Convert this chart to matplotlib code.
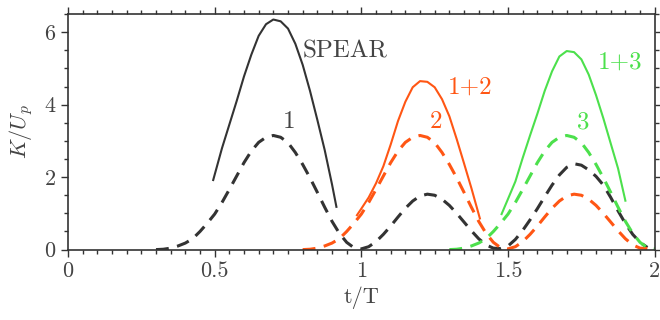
import numpy as np
import matplotlib
matplotlib.use("Agg")
from matplotlib import pyplot as plt
from matplotlib.ticker import MultipleLocator

# harmonic 1 (black dashed)
t1 = [0.300, 0.325, 0.350, 0.375, 0.400, 0.425, 0.450, 0.475, 0.500, 0.525,
      0.550, 0.575, 0.600, 0.625, 0.650, 0.675, 0.700, 0.725, 0.750, 0.775,
      0.800, 0.825, 0.850, 0.875, 0.900, 0.925, 0.950, 0.975, 1.000, 1.025,
      1.050, 1.075, 1.100, 1.125, 1.150, 1.175, 1.200, 1.225, 1.250, 1.275,
      1.300, 1.325, 1.350, 1.375, 1.400, 1.425, 1.450, 1.475, 1.500, 1.525,
      1.550, 1.575, 1.600, 1.625, 1.650, 1.675, 1.700, 1.725, 1.750, 1.775,
      1.800, 1.825, 1.850, 1.875, 1.900, 1.925, 1.950, 1.975]
k1 = [0.00, 0.01, 0.04, 0.10, 0.18, 0.30, 0.50, 0.73, 0.98, 1.30,
      1.66, 2.03, 2.40, 2.72, 2.96, 3.10, 3.15, 3.10, 2.95, 2.68,
      2.35, 1.98, 1.58, 1.17, 0.78, 0.45, 0.20, 0.05, 0.02, 0.08,
      0.22, 0.42, 0.65, 0.90, 1.14, 1.34, 1.48, 1.53, 1.50, 1.39,
      1.22, 1.00, 0.76, 0.52, 0.30, 0.13, 0.04, 0.03, 0.10, 0.28,
      0.53, 0.82, 1.13, 1.46, 1.78, 2.06, 2.27, 2.37, 2.33, 2.20,
      2.02, 1.78, 1.44, 1.07, 0.72, 0.42, 0.20, 0.06]

# harmonic 2 (orange dashed)
t2 = [0.800, 0.825, 0.850, 0.875, 0.900, 0.925, 0.950, 0.975, 1.000, 1.025,
      1.050, 1.075, 1.100, 1.125, 1.150, 1.175, 1.200, 1.225, 1.250, 1.275,
      1.300, 1.325, 1.350, 1.375, 1.400, 1.425, 1.450, 1.475, 1.500, 1.525,
      1.550, 1.575, 1.600, 1.625, 1.650, 1.675, 1.700, 1.725, 1.750, 1.775,
      1.800, 1.825, 1.850, 1.875, 1.900, 1.925, 1.950, 1.975]
k2 = [0.00, 0.01, 0.04, 0.10, 0.18, 0.30, 0.50, 0.73, 0.98, 1.30,
      1.66, 2.03, 2.40, 2.72, 2.96, 3.10, 3.15, 3.10, 2.95, 2.68,
      2.35, 1.98, 1.58, 1.17, 0.78, 0.45, 0.20, 0.05, 0.02, 0.08,
      0.22, 0.42, 0.65, 0.90, 1.14, 1.34, 1.48, 1.53, 1.50, 1.39,
      1.22, 1.00, 0.76, 0.52, 0.30, 0.13, 0.04, 0.03]

# harmonic 3 (green dashed)
t3 = [1.300, 1.325, 1.350, 1.375, 1.400, 1.425, 1.450, 1.475, 1.500, 1.525,
      1.550, 1.575, 1.600, 1.625, 1.650, 1.675, 1.700, 1.725, 1.750, 1.775,
      1.800, 1.825, 1.850, 1.875, 1.900, 1.925, 1.950, 1.975, 2.000]
k3 = [0.00, 0.01, 0.04, 0.10, 0.18, 0.30, 0.50, 0.73, 0.98, 1.30,
      1.66, 2.03, 2.40, 2.72, 2.96, 3.10, 3.15, 3.10, 2.95, 2.68,
      2.35, 1.98, 1.58, 1.17, 0.78, 0.45, 0.20, 0.05, 0.02]

# SPEAR (black solid)
t_spear = [0.495, 0.525, 0.550, 0.575, 0.600, 0.625, 0.650, 0.675, 0.700,
           0.725, 0.750, 0.775, 0.800, 0.825, 0.850, 0.875, 0.900, 0.915]
k_spear = [1.92, 2.80, 3.45, 4.10, 4.78, 5.38, 5.90, 6.22, 6.35,
           6.30, 6.10, 5.68, 5.10, 4.38, 3.58, 2.75, 1.80, 1.18]

# 1+2 (orange solid)
t_12 = [0.985, 1.000, 1.025, 1.050, 1.075, 1.100, 1.125, 1.150, 1.175,
        1.200, 1.225, 1.250, 1.275, 1.300, 1.325, 1.350, 1.375, 1.404]
k_12 = [0.95, 1.13, 1.44, 1.83, 2.30, 2.90, 3.55, 4.08, 4.48,
        4.65, 4.63, 4.48, 4.15, 3.68, 3.05, 2.38, 1.70, 0.86]

# 1+3 (green solid)
t_13 = [1.478, 1.500, 1.525, 1.550, 1.575, 1.600, 1.625, 1.650, 1.675,
        1.700, 1.725, 1.750, 1.775, 1.800, 1.825, 1.850, 1.875, 1.900]
k_13 = [0.98, 1.40, 1.88, 2.53, 3.15, 3.75, 4.38, 4.92, 5.33,
        5.48, 5.45, 5.25, 4.83, 4.26, 3.62, 2.93, 2.24, 1.35]

black = "#333333"
orange = "#ff5614"
green = "#4ce04c"

plt.rcParams["font.family"] = "serif"
plt.rcParams["font.serif"] = ["cmr10"]
plt.rcParams["mathtext.fontset"] = "cm"
plt.rcParams["axes.formatter.use_mathtext"] = True

fig = plt.figure(figsize=(6.6, 3.2), dpi=100)
ax = fig.add_axes([0.103, 0.22, 0.889, 0.736])

dash = (0, (4.2, 2.8))
ax.plot(t1, k1, color=black, lw=2.2, linestyle=dash)
ax.plot(t2, k2, color=orange, lw=2.2, linestyle=dash)
ax.plot(t3, k3, color=green, lw=2.2, linestyle=dash)
ax.plot(t_spear, k_spear, color=black, lw=1.5)
ax.plot(t_12, k_12, color=orange, lw=1.5)
ax.plot(t_13, k_13, color=green, lw=1.5)

fs = 18
ax.text(0.801, 5.31, "SPEAR", color="#444444", fontsize=fs)
ax.text(0.753, 3.35, "1", color="#444444", fontsize=fs, ha="center")
ax.text(1.296, 4.31, "1+2", color=orange, fontsize=fs)
ax.text(1.253, 3.35, "2", color=orange, fontsize=fs, ha="center")
ax.text(1.807, 5.0, "1+3", color=green, fontsize=fs)
ax.text(1.756, 3.35, "3", color=green, fontsize=fs, ha="center")

ax.set_xlim(0, 2)
ax.set_ylim(0, 6.5)
ax.set_xticks([0, 0.5, 1, 1.5, 2])
ax.set_xticklabels(["0", "0.5", "1", "1.5", "2"])
ax.set_yticks([0, 2, 4, 6])
ax.xaxis.set_minor_locator(MultipleLocator(0.05))
ax.yaxis.set_minor_locator(MultipleLocator(0.5))
ax.tick_params(which="both", direction="out", top=True, right=True,
               color=black, width=1.0, labelsize=16, labelcolor="#444444")
ax.tick_params(which="major", length=5)
ax.tick_params(which="minor", length=3)
for s in ax.spines.values():
    s.set_color(black)
    s.set_linewidth(1.2)

ax.set_xlabel("t/T", fontsize=16, color="#444444", labelpad=4)
ax.set_ylabel("$K/U_p$", fontsize=16, color="#444444", labelpad=6)

fig.savefig("out.png", dpi=100)
